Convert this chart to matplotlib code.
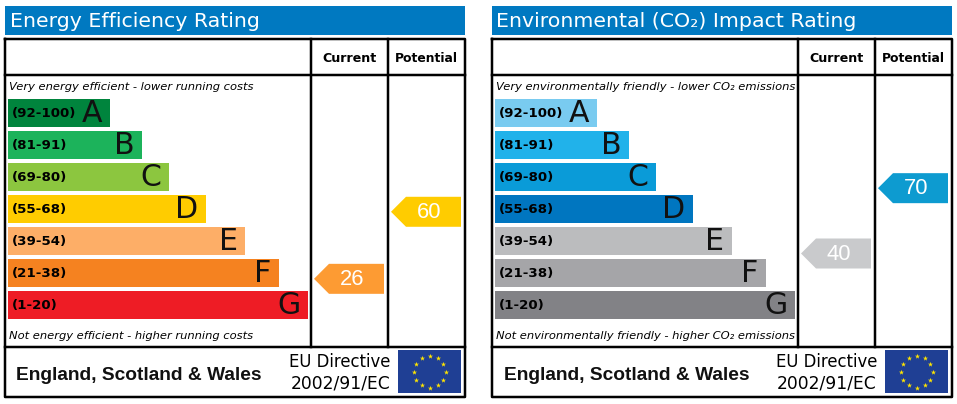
"""Energy Efficiency and Environmental Impact rating charts, side by side."""

import matplotlib
matplotlib.use("Agg")
import matplotlib.pyplot as plt
import numpy as np
from matplotlib.patches import Polygon, Rectangle

BAND_LABELS = ["(92-100)", "(81-91)", "(69-80)", "(55-68)", "(39-54)", "(21-38)", "(1-20)"]
BAND_LETTERS = ["A", "B", "C", "D", "E", "F", "G"]
BAND_HIGH = [100, 91, 80, 68, 54, 38, 20]
BAND_LOW = [92, 81, 69, 55, 39, 21, 1]
BAND_LENGTHS = [102, 134, 161, 198, 237, 271, 300]

ENERGY_COLORS = ["#00843d", "#1cb35b", "#8cc63f", "#ffcc00", "#fdae67", "#f58220", "#ee1c25"]
ENV_COLORS = ["#79cbf0", "#21b2ea", "#0a9bd8", "#0076c0", "#bbbcbe", "#a5a5a8", "#828286"]

ENERGY_TITLE = "Energy Efficiency Rating"
ENERGY_TOP = "Very energy efficient - lower running costs"
ENERGY_BOTTOM = "Not energy efficient - higher running costs"
ENERGY_CURRENT = 26
ENERGY_POTENTIAL = 60

ENV_TITLE = "Environmental (CO₂) Impact Rating"
ENV_TOP = "Very environmentally friendly - lower CO₂ emissions"
ENV_BOTTOM = "Not environmentally friendly - higher CO₂ emissions"
ENV_CURRENT = 40
ENV_POTENTIAL = 70

W, H = 957, 404
BLUE = "#0079c1"
PX = 72 / 100  # points per pixel at dpi 100


def rating_y(rating):
    # arrow height follows the rating's place inside its band
    for i, (low, high) in enumerate(zip(BAND_LOW, BAND_HIGH)):
        if low <= rating <= high:
            return 97 + 32 * i + (high - rating) / (high - low + 1) * 32
    raise ValueError(rating)


def draw_arrow(ax, x, rating, color):
    y = rating_y(rating) + 0.5
    ax.add_patch(Polygon([(x, y), (x + 15, y - 15), (x + 70, y - 15),
                          (x + 70, y + 15), (x + 15, y + 15)],
                         closed=True, facecolor=color, edgecolor="none"))
    ax.text(x + 38, y + 0.5, str(rating), color="white", fontsize=22 * PX,
            family="Liberation Sans", ha="center", va="center")


def draw_flag(ax, x0):
    x, y, w, h = x0 + 398, 350, 63, 43
    ax.add_patch(Rectangle((x, y), w, h, facecolor="#1f3f94", edgecolor="none"))
    angles = np.deg2rad(np.arange(0, 360, 30))
    ax.scatter(x + w / 2 + 16 * np.cos(angles), y + h / 2 + 16 * np.sin(angles),
               marker="*", s=15, color="#ffe500", linewidths=0, zorder=3)


def draw_panel(ax, x0, title, top, bottom, colors, current, potential,
               current_color, potential_color):
    ax.add_patch(Rectangle((x0 + 5, 6), 460, 29, facecolor=BLUE, edgecolor="none"))
    ax.text(x0 + 9.5, 21.5, title, color="white", fontsize=20.5 * PX, ha="left", va="center")

    frame = dict(color="black", lw=2.5 * PX, solid_capstyle="projecting", zorder=4)
    ax.plot([x0 + 5, x0 + 465, x0 + 465, x0 + 5, x0 + 5], [39, 39, 397, 397, 39], **frame)
    ax.plot([x0 + 5, x0 + 465], [75, 75], **frame)
    ax.plot([x0 + 5, x0 + 465], [347, 347], **frame)
    ax.plot([x0 + 311, x0 + 311], [39, 347], **frame)
    ax.plot([x0 + 388, x0 + 388], [39, 347], **frame)

    ax.text(x0 + 349.5, 58, "Current", fontsize=12.6 * PX, weight="bold", ha="center", va="center")
    ax.text(x0 + 426, 58, "Potential", fontsize=12.4 * PX, weight="bold", ha="center", va="center")

    ax.text(x0 + 9, 87, top, fontsize=11.5 * PX, style="italic", ha="left", va="center")
    ax.text(x0 + 9, 336, bottom, fontsize=11.5 * PX, style="italic", ha="left", va="center")

    ys = 113 + 32 * np.arange(len(BAND_LABELS))
    ax.barh(ys, BAND_LENGTHS, height=28, left=x0 + 8, color=colors)
    for y, length, label, letter in zip(ys, BAND_LENGTHS, BAND_LABELS, BAND_LETTERS):
        ax.text(x0 + 12, y + 0.5, label, fontsize=13.4 * PX, weight="bold", ha="left", va="center")
        ax.text(x0 + 8 + length - 7.5, y + 1, letter, fontsize=30 * PX, ha="right", va="center",
                color="#111111")

    draw_arrow(ax, x0 + 314, current, current_color)
    draw_arrow(ax, x0 + 391, potential, potential_color)

    ax.text(x0 + 16.5, 375, "England, Scotland & Wales", fontsize=19.2 * PX, weight="bold",
            family="Liberation Sans", ha="left", va="center", color="#111111")
    ax.text(x0 + 390, 362, "EU Directive", fontsize=16.5 * PX, ha="right", va="center")
    ax.text(x0 + 390, 383, "2002/91/EC", fontsize=17.1 * PX, ha="right", va="center")
    draw_flag(ax, x0)


fig = plt.figure(figsize=(W / 100, H / 100), dpi=100)
ax = fig.add_axes([0, 0, 1, 1])
ax.set_xlim(0, W)
ax.set_ylim(H, 0)
ax.axis("off")

draw_panel(ax, 0, ENERGY_TITLE, ENERGY_TOP, ENERGY_BOTTOM, ENERGY_COLORS,
           ENERGY_CURRENT, ENERGY_POTENTIAL, "#fd9b33", "#ffcc00")
draw_panel(ax, 487, ENV_TITLE, ENV_TOP, ENV_BOTTOM, ENV_COLORS,
           ENV_CURRENT, ENV_POTENTIAL, "#c9cacc", "#0d9bd0")

fig.savefig("out.png", dpi=100)
